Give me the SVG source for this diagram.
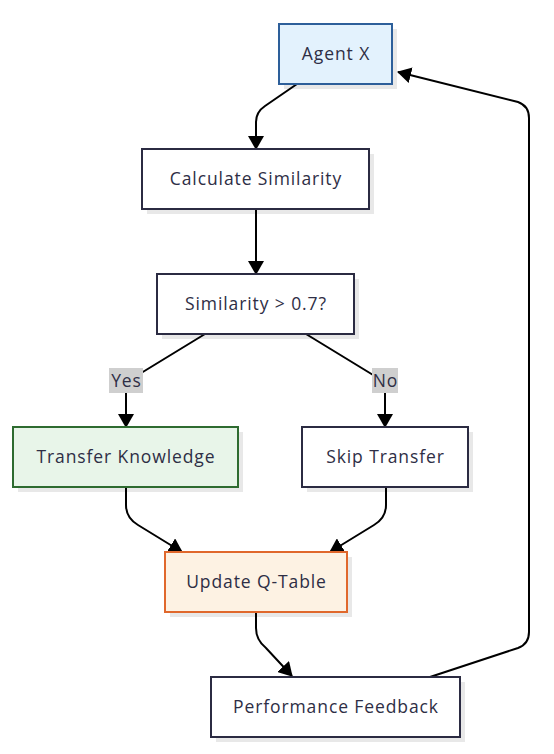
<svg xmlns="http://www.w3.org/2000/svg" width="554" height="754" viewBox="0 0 554 754">
<style>
.box{stroke-width:2}
.sh{fill:#000;opacity:0.09}
.plain{fill:#ffffff;stroke:#2b2b42}
.t{font-family:"Open Sans","Noto Sans",sans-serif;font-size:17.5px;letter-spacing:0.9px;fill:#2e2e45;text-anchor:middle;dominant-baseline:central}
.e{fill:none;stroke:#000;stroke-width:2}
.lbl{fill:#cfcfcf}
</style>
<defs>
<marker id="ah" markerUnits="userSpaceOnUse" markerWidth="14" markerHeight="16" refX="13" refY="8" orient="auto" viewBox="0 0 14 16">
<path d="M0,0 L14,8 L0,16 z" fill="#000"/>
</marker>
</defs>
<g id="edges">
<path class="e" d="M297,84 L265,106 Q256,112 256,122 L256,149" marker-end="url(#ah)"/>
<path class="e" d="M256,209 L256,274" marker-end="url(#ah)"/>
<path class="e" d="M205,334 L133,378 Q126,383 126,392 L126,427" marker-end="url(#ah)"/>
<path class="e" d="M306,334 L378,378 Q385,383 385,392 L385,427" marker-end="url(#ah)"/>
<path class="e" d="M126,487 L126,505 Q126,518 138,525 L182,552" marker-end="url(#ah)"/>
<path class="e" d="M386,487 L386,505 Q386,518 374,525 L330,552" marker-end="url(#ah)"/>
<path class="e" d="M256,612 L256,628 Q256,640 266,648 L292,676" marker-end="url(#ah)"/>
<path class="e" d="M430,677 L518,648 Q529,644 529,632 L529,118 Q529,106 518,102 L398,72" marker-end="url(#ah)"/>
<g id="label-yes"><rect class="lbl" x="109" y="368" width="34" height="25"/><text class="t" x="126.5" y="380">Yes</text></g>
<g id="label-no"><rect class="lbl" x="372" y="368" width="26" height="25"/><text class="t" x="385.5" y="380">No</text></g>
</g>
<g id="agentx">
<rect class="sh" x="284" y="29" width="113" height="60"/>
<rect class="box" x="279" y="24" width="113" height="60" fill="#e3f2fd" stroke="#2d5f9a"/>
<text class="t" x="336" y="53">Agent X</text>
</g>
<g id="calc">
<rect class="sh" x="147" y="154" width="227" height="60"/>
<rect class="box plain" x="142" y="149" width="227" height="60"/>
<text class="t" x="256" y="178">Calculate Similarity</text>
</g>
<g id="decision">
<rect class="sh" x="162" y="279" width="197" height="60"/>
<rect class="box plain" x="157" y="274" width="197" height="60"/>
<text class="t" x="256" y="303">Similarity &gt; 0.7?</text>
</g>
<g id="transfer">
<rect class="sh" x="18" y="432" width="225" height="60"/>
<rect class="box" x="13" y="427" width="225" height="60" fill="#e8f5e9" stroke="#2e6b30"/>
<text class="t" x="126" y="456">Transfer Knowledge</text>
</g>
<g id="skip">
<rect class="sh" x="307" y="432" width="166" height="60"/>
<rect class="box plain" x="302" y="427" width="166" height="60"/>
<text class="t" x="385.5" y="456">Skip Transfer</text>
</g>
<g id="update">
<rect class="sh" x="170" y="557" width="182" height="60"/>
<rect class="box" x="165" y="552" width="182" height="60" fill="#fdf2e3" stroke="#e0682c"/>
<text class="t" x="256.5" y="581">Update Q-Table</text>
</g>
<g id="feedback">
<rect class="sh" x="216" y="682" width="249" height="60"/>
<rect class="box plain" x="211" y="677" width="249" height="60"/>
<text class="t" x="336" y="706">Performance Feedback</text>
</g>
</svg>
